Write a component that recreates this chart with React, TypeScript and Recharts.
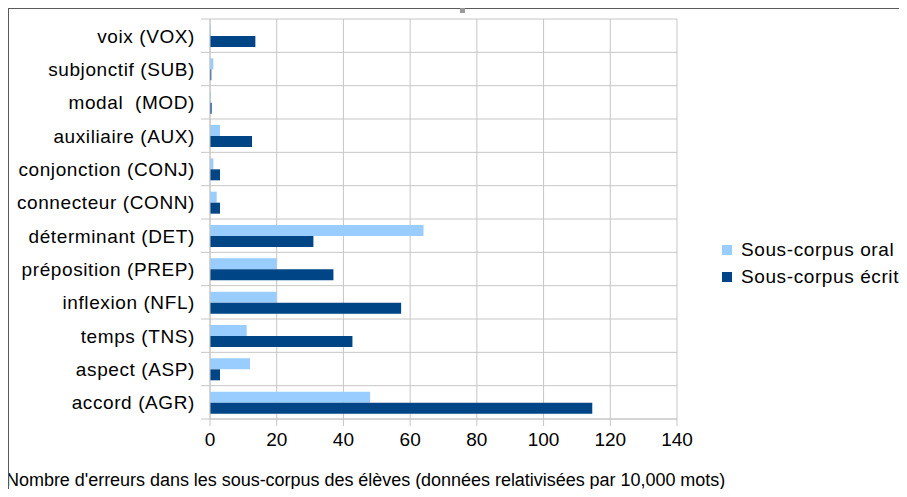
import React from 'react';
import { BarChart, Bar, XAxis, YAxis, CartesianGrid, Legend } from 'recharts';

const categories = [
  'voix (VOX)',
  'subjonctif (SUB)',
  'modal  (MOD)',
  'auxiliaire (AUX)',
  'conjonction (CONJ)',
  'connecteur (CONN)',
  'déterminant (DET)',
  'préposition (PREP)',
  'inflexion (NFL)',
  'temps (TNS)',
  'aspect (ASP)',
  'accord (AGR)',
];
const oralValues = [0.3, 1, 0.3, 3, 1, 2, 64, 20, 20, 11, 12, 48];
const ecritValues = [13.6, 0.4, 0.5, 12.6, 3, 3, 31, 37, 57.3, 42.7, 3, 114.6];
const xTicks = [0, 20, 40, 60, 80, 100, 120, 140];
const seriesNames = ['Sous-corpus oral', 'Sous-corpus écrit'];
const seriesColors = ['#99ccff', '#004586'];
const axisTitle = "Nombre d'erreurs dans les sous-corpus des élèves (données relativisées par 10,000 mots)";

const data = categories.map((c, i) => ({ cat: c, oral: oralValues[i], ecrit: ecritValues[i] }));

const FONT = '"Liberation Sans", Arial, sans-serif';
const GRID = '#c6c6c6';

const W = 899;
const H = 481;
const PLOT_H = 400;
const M = { top: 11, right: 230, left: 0, bottom: 0 };
const X_AXIS_H = H - M.top - PLOT_H;

const YTick = (props: any) => {
  const { x, y, payload, index } = props;
  const half = PLOT_H / categories.length / 2;
  const axisX = x + 15;
  return (
    <g>
      <line x1={axisX - 9} x2={axisX} y1={y - half} y2={y - half} stroke={GRID} />
      {index === categories.length - 1 ? (
        <line x1={axisX - 9} x2={axisX} y1={y + half} y2={y + half} stroke={GRID} />
      ) : null}
      <text
        x={x}
        y={y}
        dy={7}
        textAnchor="end"
        fill="#000"
        style={{ fontFamily: FONT, fontSize: 19, letterSpacing: 0.6, whiteSpace: 'pre' }}
      >
        {payload.value}
      </text>
    </g>
  );
};

export default function App() {
  return (
    <div style={{ position: 'relative', width: W, height: H }}>
      <style>{'html { overflow: hidden; }'}</style>
      <BarChart
        width={W}
        height={H}
        data={data}
        layout="vertical"
        margin={M}
        barSize={11}
        barGap={0}
        style={{ overflow: 'visible' }}
      >
        <CartesianGrid
          stroke={GRID}
          horizontalCoordinatesGenerator={({ offset }: any) =>
            Array.from({ length: categories.length + 1 }, (_, i) => offset.top + (i * offset.height) / categories.length)
          }
        />
        <XAxis
          type="number"
          domain={[0, 140]}
          ticks={xTicks}
          interval={0}
          height={X_AXIS_H}
          tickSize={7}
          tickMargin={7}
          axisLine={{ stroke: GRID }}
          tickLine={{ stroke: GRID }}
          tick={{ fill: '#000', fontFamily: FONT, fontSize: 19 }}
        />
        <YAxis
          type="category"
          dataKey="cat"
          width={202}
          interval={0}
          tickSize={8}
          tickMargin={7}
          tickLine={false}
          axisLine={{ stroke: GRID }}
          tick={<YTick />}
        />
        <Legend
          layout="vertical"
          align="center"
          verticalAlign="middle"
          content={() => null}
          wrapperStyle={{ display: 'none' }}
        />
        <Bar dataKey="oral" name={seriesNames[0]} fill={seriesColors[0]} isAnimationActive={false} />
        <Bar dataKey="ecrit" name={seriesNames[1]} fill={seriesColors[1]} isAnimationActive={false} />
      </BarChart>
      <div
        style={{
          position: 'absolute',
          left: 714,
          top: 228,
          fontFamily: FONT,
          fontSize: 19,
          letterSpacing: 0.6,
          color: '#000',
          whiteSpace: 'nowrap',
        }}
      >
        {seriesNames.map((n, i) => (
          <div key={n} style={{ display: 'flex', alignItems: 'center', height: 27 }}>
            <span style={{ display: 'inline-block', flex: 'none', width: 10, height: 10, background: seriesColors[i], marginRight: 9 }} />
            <span style={{ flex: 'none' }}>{n}</span>
          </div>
        ))}
      </div>
      <div
        style={{
          position: 'absolute',
          left: -2,
          top: 462,
          fontFamily: FONT,
          fontSize: 18,
          letterSpacing: -0.03,
          whiteSpace: 'nowrap',
          color: '#000',
        }}
      >
        {axisTitle}
      </div>
      <div style={{ position: 'absolute', left: 0, top: 0, width: 1, height: 489, background: '#5a5a5a' }} />
      <div style={{ position: 'absolute', left: 0, top: 0, width: 899, height: 1, background: '#5a5a5a' }} />
      <div style={{ position: 'absolute', left: 452, top: 0, width: 5, height: 5, background: '#999' }} />
    </div>
  );
}
